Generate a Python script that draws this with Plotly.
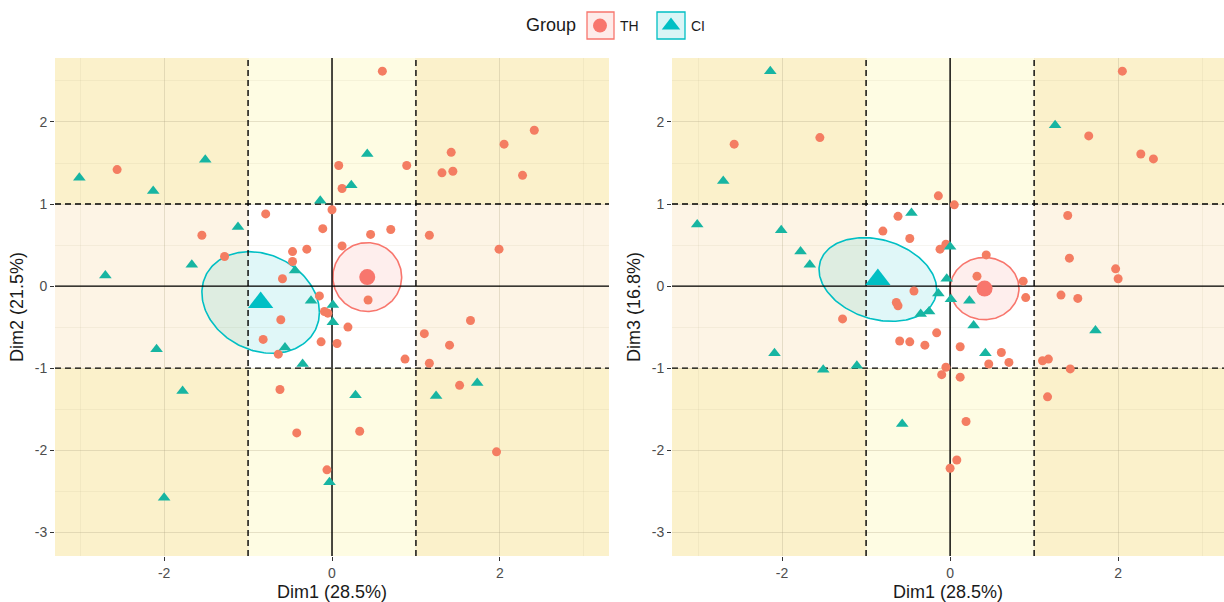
import numpy as np
import plotly.graph_objects as go

# ---------------- data ----------------
# Left panel: Dim1 vs Dim2
th12_x = [0.60, -2.56, 0.08, 0.89, 0.12, 1.42, 1.31, 1.44, 2.05, 2.41, 2.27, 0.00, -0.79, -0.11,
          0.46, 0.70, 1.16, -1.55, 0.12, 1.99, -1.28, -0.47, -0.30, -0.47, -0.59, 0.43, -0.15,
          -0.09, -0.05, -0.61, 0.19, 1.65, 1.10, 1.40, -0.82, -0.13, 0.06, -0.64, 0.87, 1.16,
          -0.62, 1.52, -0.42, 0.33, 1.96, -0.06]
th12_y = [2.62, 1.42, 1.47, 1.47, 1.19, 1.63, 1.38, 1.40, 1.73, 1.90, 1.35, 0.93, 0.88, 0.70,
          0.63, 0.69, 0.62, 0.62, 0.49, 0.45, 0.36, 0.42, 0.45, 0.30, 0.09, -0.17, -0.12,
          -0.31, -0.33, -0.41, -0.50, -0.42, -0.58, -0.72, -0.65, -0.68, -0.70, -0.83, -0.89, -0.94,
          -1.26, -1.21, -1.79, -1.77, -2.02, -2.24]
ci12_x = [-3.01, -2.13, -1.51, 0.42, 0.23, -0.14, -1.12, -2.70, -1.67, -0.44, -0.25, 0.01, 0.01,
          -2.09, -0.56, -0.35, -1.78, 0.28, 1.24, 1.73, -0.03, -2.00]
ci12_y = [1.32, 1.16, 1.54, 1.61, 1.23, 1.04, 0.72, 0.13, 0.26, 0.19, -0.18, -0.23, -0.44,
          -0.77, -0.75, -0.95, -1.28, -1.33, -1.34, -1.18, -2.39, -2.58]

# Right panel: Dim1 vs Dim3
th13_x = [2.05, -2.57, -1.55, 1.65, 2.27, 2.42, -0.14, 0.05, -0.62, 1.40, -0.80, -0.48, -0.12,
          -0.05, 0.43, 1.42, 0.32, 1.97, 2.00, 0.87, -0.43, 1.32, 1.52, 0.90, -0.64, -0.62,
          -1.28, -0.16, -0.60, -0.48, -0.30, 0.12, 0.61, 0.46, 0.70, 1.10, 1.17, 1.43, -0.05,
          -0.10, 0.12, 1.16, 0.19, 0.08, 0.00]
th13_y = [2.62, 1.73, 1.81, 1.83, 1.61, 1.55, 1.10, 0.99, 0.85, 0.86, 0.67, 0.58, 0.45,
          0.51, 0.38, 0.34, 0.12, 0.21, 0.09, 0.06, -0.06, -0.11, -0.15, -0.14, -0.20, -0.24,
          -0.40, -0.57, -0.67, -0.68, -0.72, -0.74, -0.81, -0.95, -0.93, -0.91, -0.89, -1.01, -0.99,
          -1.08, -1.11, -1.35, -1.65, -2.12, -2.22]
ci13_x = [-2.14, -2.70, 1.25, -3.01, -0.46, -2.01, -1.78, -1.67, 0.00, -0.04, -0.14, 0.01, 0.23,
          -0.25, -0.35, 0.28, 1.73, -2.09, 0.42, -1.51, -1.11, -0.57]
ci13_y = [2.62, 1.28, 1.96, 0.75, 0.89, 0.68, 0.42, 0.26, 0.48, 0.09, -0.09, -0.16, -0.18,
          -0.31, -0.34, -0.48, -0.54, -0.82, -0.82, -1.02, -0.97, -1.68]

# group means (x, y) and confidence-ellipse covariance (sxx, syy, sxy)
mean_th12 = [0.42, 0.11]
mean_ci12 = [-0.85, -0.20]
mean_th13 = [0.41, -0.03]
mean_ci13 = [-0.86, 0.08]
cov_th12 = [0.168, 0.176, 0.0]
cov_ci12 = [0.49, 0.384, -0.084]
cov_th13 = [0.168, 0.144, 0.0]
cov_ci13 = [0.49, 0.26, -0.085]

groups = ["TH", "CI"]
legend_title = "Group"
x_tickvals = [-2, 0, 2]
x_ticktext = ["-2", "0", "2"]
y_tickvals = [-3, -2, -1, 0, 1, 2]
y_ticktext = ["-3", "-2", "-1", "0", "1", "2"]
x_title = "Dim1 (28.5%)"
y_titles = ["Dim2 (21.5%)", "Dim3 (16.8%)"]
cut_lines = [-1, 1]

# ---------------- styling ----------------
C_TH = "#F8766D"
C_TH_PT = "#F47D62"
C_CI = "#00BFC4"
C_CI_PT = "#17B5A2"
FONT = "Liberation Sans, Arial, sans-serif"

W, H = 1224, 602
ML, MR, MT, MB = 55, 0, 58, 46
pw = W - ML - MR
ph = H - MT - MB

def px_to_paper_x(p):
    return (p - ML) / pw

def px_to_paper_y(p):
    return (H - MB - p) / ph

dom1 = [0, px_to_paper_x(609)]
dom2 = [px_to_paper_x(672), 1]
xr1 = [-3.30, 3.30]
xr2 = [-3.31, 3.26]
yr = [-3.29, 2.78]


def ellipse(mean, cov, n=200):
    sxx, syy, sxy = cov
    a = np.sqrt(sxx)
    b = sxy / a
    c = np.sqrt(syy - b * b)
    t = np.linspace(0, 2 * np.pi, n)
    return mean[0] + a * np.cos(t), mean[1] + b * np.cos(t) + c * np.sin(t)


fig = go.Figure()

panels = [
    ("x", "y", xr1, th12_x, th12_y, ci12_x, ci12_y, mean_th12, mean_ci12, cov_th12, cov_ci12),
    ("x2", "y2", xr2, th13_x, th13_y, ci13_x, ci13_y, mean_th13, mean_ci13, cov_th13, cov_ci13),
]

for xa, ya, xr, tx, ty, cx, cy, mth, mci, vth, vci in panels:
    ex, ey = ellipse(mci, vci)
    fig.add_trace(go.Scatter(x=ex, y=ey, mode="lines", fill="toself",
                             fillcolor="rgba(0,191,196,0.12)",
                             line=dict(color=C_CI, width=1.6), xaxis=xa, yaxis=ya,
                             showlegend=False, hoverinfo="skip"))
    ex, ey = ellipse(mth, vth)
    fig.add_trace(go.Scatter(x=ex, y=ey, mode="lines", fill="toself",
                             fillcolor="rgba(248,118,109,0.12)",
                             line=dict(color=C_TH, width=1.6), xaxis=xa, yaxis=ya,
                             showlegend=False, hoverinfo="skip"))
    # reference lines
    for v in cut_lines:
        fig.add_trace(go.Scatter(x=[v, v], y=yr, mode="lines", xaxis=xa, yaxis=ya,
                                 line=dict(color="black", width=1.4, dash="6px,4px"),
                                 showlegend=False, hoverinfo="skip"))
        fig.add_trace(go.Scatter(x=xr, y=[v, v], mode="lines", xaxis=xa, yaxis=ya,
                                 line=dict(color="black", width=1.4, dash="6px,4px"),
                                 showlegend=False, hoverinfo="skip"))
    fig.add_trace(go.Scatter(x=[0, 0], y=yr, mode="lines", xaxis=xa, yaxis=ya,
                             line=dict(color="black", width=1.4), showlegend=False, hoverinfo="skip"))
    fig.add_trace(go.Scatter(x=xr, y=[0, 0], mode="lines", xaxis=xa, yaxis=ya,
                             line=dict(color="black", width=1.4), showlegend=False, hoverinfo="skip"))
    fig.add_trace(go.Scatter(x=tx, y=ty, mode="markers",
                             marker=dict(symbol="circle", size=9, color=C_TH_PT),
                             xaxis=xa, yaxis=ya, showlegend=False, name=groups[0]))
    fig.add_trace(go.Scatter(x=cx, y=cy, mode="markers",
                             marker=dict(symbol="triangle-up", size=11, color=C_CI_PT),
                             xaxis=xa, yaxis=ya, showlegend=False, name=groups[1]))
    fig.add_trace(go.Scatter(x=[mth[0]], y=[mth[1]], mode="markers",
                             marker=dict(symbol="circle", size=16, color=C_TH),
                             xaxis=xa, yaxis=ya, showlegend=False))
    fig.add_trace(go.Scatter(x=[mci[0]], y=[mci[1]], mode="markers",
                             marker=dict(symbol="triangle-up", size=22, color=C_CI),
                             xaxis=xa, yaxis=ya, showlegend=False))

# legend-only entries
fig.add_trace(go.Scatter(x=[None], y=[None], mode="markers", name=groups[0],
                         marker=dict(symbol="circle", size=14, color=C_TH)))
fig.add_trace(go.Scatter(x=[None], y=[None], mode="markers", name=groups[1],
                         marker=dict(symbol="triangle-up", size=18, color=C_CI)))

# background quadrant shading
shapes = []
COL_CORNER = "#FBF1CB"
COL_VBAND = "#FEFCE3"
COL_HBAND = "#FDF4E5"
for xa, ya, xr in [("x", "y", xr1), ("x2", "y2", xr2)]:
    xb = [xr[0], cut_lines[0], cut_lines[1], xr[1]]
    yb = [yr[0], cut_lines[0], cut_lines[1], yr[1]]
    for i in range(3):
        for j in range(3):
            if i == 1 and j == 1:
                continue
            if i != 1 and j != 1:
                col = COL_CORNER
            elif i == 1:
                col = COL_VBAND
            else:
                col = COL_HBAND
            shapes.append(dict(type="rect", xref=xa, yref=ya, x0=xb[i], x1=xb[i + 1],
                               y0=yb[j], y1=yb[j + 1], fillcolor=col, line=dict(width=0),
                               layer="below"))

# legend key boxes
for x0p, x1p, fc, lc in [(587, 614, "rgba(248,118,109,0.15)", C_TH),
                         (657, 685, "rgba(0,191,196,0.15)", C_CI)]:
    shapes.append(dict(type="rect", xref="paper", yref="paper",
                       x0=px_to_paper_x(x0p), x1=px_to_paper_x(x1p),
                       y0=px_to_paper_y(39), y1=px_to_paper_y(12),
                       fillcolor=fc, line=dict(color=lc, width=1.3), layer="below"))

grid_major = "rgba(170,160,130,0.20)"
grid_minor = "rgba(170,160,130,0.11)"

def xaxis(domain, rng, anchor):
    return dict(domain=domain, range=rng, anchor=anchor, tickvals=x_tickvals, ticktext=x_ticktext,
                showgrid=True, gridcolor=grid_major, gridwidth=1, zeroline=False,
                minor=dict(dtick=1, tick0=-3, showgrid=True, gridcolor=grid_minor, ticks=""),
                ticks="outside", ticklen=4, tickcolor="#333333", tickwidth=1.2,
                tickfont=dict(size=14, color="#4D4D4D", family=FONT),
                title=dict(text=x_title, font=dict(size=18, color="#1A1A1A", family=FONT), standoff=6),
                showline=False, fixedrange=True)

def yaxis(anchor, title):
    return dict(domain=[0, 1], range=yr, anchor=anchor, tickvals=y_tickvals, ticktext=y_ticktext,
                showgrid=True, gridcolor=grid_major, gridwidth=1, zeroline=False,
                minor=dict(dtick=0.5, tick0=0, showgrid=True, gridcolor=grid_minor, ticks=""),
                ticks="outside", ticklen=4, tickcolor="#333333", tickwidth=1.2,
                tickfont=dict(size=14, color="#4D4D4D", family=FONT),
                title=dict(text=title, font=dict(size=18, color="#1A1A1A", family=FONT), standoff=6),
                showline=False, fixedrange=True)

fig.update_layout(
    width=W, height=H,
    margin=dict(l=ML, r=MR, t=MT, b=MB),
    paper_bgcolor="white", plot_bgcolor="white",
    font=dict(family=FONT),
    xaxis=xaxis(dom1, xr1, "y"),
    yaxis=yaxis("x", y_titles[0]),
    xaxis2=xaxis(dom2, xr2, "y2"),
    yaxis2=yaxis("x2", y_titles[1]),
    shapes=shapes,
    showlegend=True,
    legend=dict(orientation="h", x=px_to_paper_x(580), xanchor="left", y=px_to_paper_y(26),
                yanchor="middle", entrywidth=26, entrywidthmode="pixels",
                font=dict(size=14, color="#1A1A1A", family=FONT), bgcolor="rgba(0,0,0,0)",
                itemsizing="trace"),
    annotations=[dict(text=legend_title, xref="paper", yref="paper", x=px_to_paper_x(578),
                      xanchor="right", y=px_to_paper_y(25), yanchor="middle", showarrow=False,
                      font=dict(size=18, color="#1A1A1A", family=FONT))],
)

fig.write_html("out.html")
